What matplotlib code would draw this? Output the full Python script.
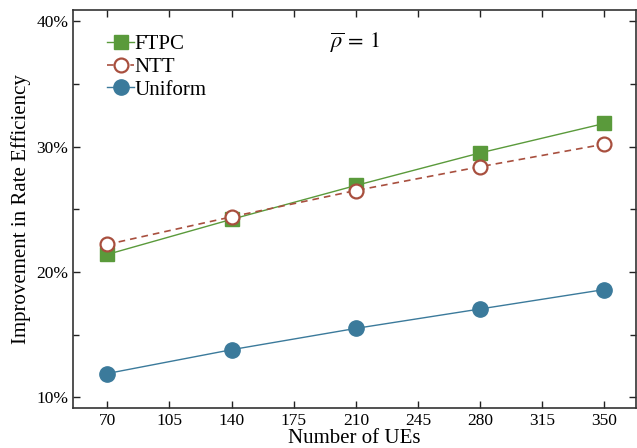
import matplotlib
matplotlib.use("Agg")
import matplotlib.pyplot as plt
from matplotlib.ticker import FuncFormatter, MultipleLocator

ues = [70, 140, 210, 280, 350]
ftpc = [21.4, 24.2, 26.9, 29.5, 31.85]
ntt = [22.2, 24.4, 26.5, 28.4, 30.2]
uniform = [11.9, 13.8, 15.5, 17.05, 18.6]
xticks = [70, 105, 140, 175, 210, 245, 280, 315, 350]
yticks = [10, 20, 30, 40]

plt.rcParams['font.family'] = ['Liberation Serif', 'DejaVu Serif']
plt.rcParams['mathtext.fontset'] = 'stix'

fig = plt.figure(figsize=(6.37, 4.48), dpi=100)
ax = fig.add_axes([73/637, 1-408/448, (636-73)/637, 398/448])

green = '#5a9a3b'
brown = '#a84f3e'
blue = '#3b7a9b'

ax.plot(ues, ftpc, '-', color=green, lw=1.0, marker='s', ms=10,
        mfc=green, mec=green, label='FTPC')
ax.plot(ues, ntt, '--', color=brown, lw=1.2, marker='o', ms=10,
        mfc='white', mec=brown, mew=1.6, label='NTT', dashes=(4, 3))
ax.plot(ues, uniform, '-', color=blue, lw=1.0, marker='o', ms=11,
        mfc=blue, mec=blue, label='Uniform')

ax.set_xlim(50.7, 367.8)
ax.set_ylim(9.15, 40.9)
ax.set_xticks(xticks)
ax.set_yticks(yticks)
ax.yaxis.set_minor_locator(MultipleLocator(5))
ax.yaxis.set_major_formatter(FuncFormatter(lambda v, p: '%d%%' % v))

ax.tick_params(axis='both', which='both', direction='in', top=True, right=True,
               labelsize=12.5, color='#222222')
ax.tick_params(which='major', length=5, width=1)
ax.tick_params(which='minor', length=4, width=1)
ax.tick_params(axis='x', which='minor', top=False, bottom=False)
for s in ax.spines.values():
    s.set_linewidth(1.2)
    s.set_color('#333333')

ax.set_xlabel('Number of UEs', fontsize=15, labelpad=0)
ax.set_ylabel('Improvement in Rate Efficiency', fontsize=15, labelpad=3.5)

ax.text(0.456, 0.918, r'$\overline{\rho}\,=\,1$', transform=ax.transAxes,
        fontsize=16, va='center', ha='left')

ax.legend(loc='upper left', frameon=False, fontsize=15, handlelength=1.3,
          handletextpad=0.0, labelspacing=0.15, borderaxespad=0.3,
          bbox_to_anchor=(0.035, 0.975))

fig.savefig('out.png', dpi=100)
